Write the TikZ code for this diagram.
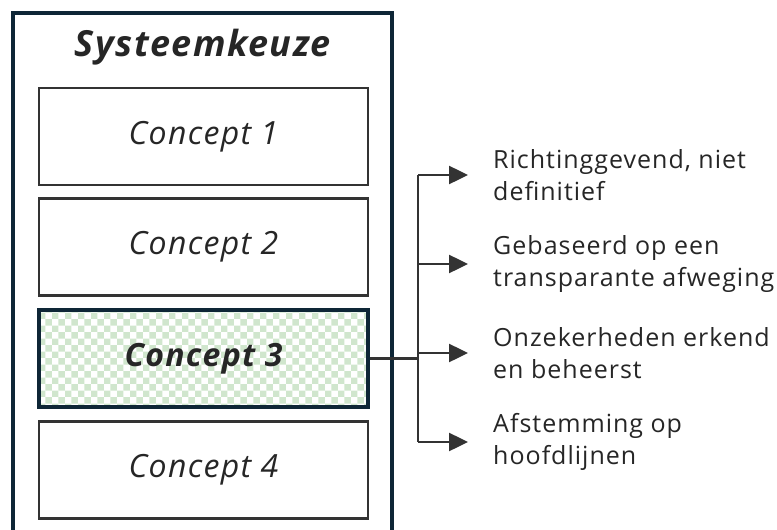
\documentclass[tikz,border=0pt]{standalone}
\usepackage{fontspec}
\setmainfont{Open Sans}[LetterSpace=4]
\usepackage{xcolor}
\definecolor{colorFrame}{HTML}{0E2636}
\definecolor{colorBox}{HTML}{333333}
\definecolor{colorText}{HTML}{262626}
\definecolor{colorCheck}{HTML}{D0E6CD}
\usetikzlibrary{arrows.meta, positioning, patterns.meta}
\tikzdeclarepattern{name=checks, type=uncolored, bounding box={(0,0) and (13.4pt,13.4pt)}, tile size={(13.4pt,13.4pt)},
  code={\fill (0,0) rectangle (6.7pt,6.7pt); \fill (6.7pt,6.7pt) rectangle (13.4pt,13.4pt);}}
\tikzset{concept/.style={draw=colorBox, line width=2.5pt, minimum width=329pt, minimum height=97pt, text=colorText, font=\fontsize{32}{36}\selectfont\itshape},
  chosen/.style={concept, draw=colorFrame, line width=4.5pt, pattern={checks}, pattern color=colorCheck, font=\fontsize{32}{36}\selectfont\bfseries\itshape},
  reason/.style={anchor=west, align=left, inner sep=0pt, text=colorText, font=\fontsize{25}{32}\selectfont},
  branch/.style={-{Triangle[length=19pt, width=18pt]}, line width=2.5pt, colorBox, shorten >=25pt}}

\begin{document}
\begin{tikzpicture}[x=1pt, y=1pt, node distance=11pt]
\useasboundingbox (0,0) rectangle (777,-530);
\draw[colorFrame, line width=4.5pt] (13,-560) -- (13,-13) -- (392,-13) -- (392,-560);
\node[text=colorText, font=\fontsize{36}{40}\selectfont\bfseries\itshape] (title) at (203,-47) {Systeemkeuze};
\node[concept] (c1) at (203.5,-136.5) {Concept 1};
\node[concept, below=of c1] (c2) {Concept 2};
\node[chosen, below=of c2] (c3) {Concept 3};
\node[concept, below=of c3] (c4) {Concept 4};
\coordinate (b1) at (418,-175);
\coordinate (b2) at (418,-264);
\coordinate (b3) at (418,-353);
\coordinate (b4) at (418,-442);
\node[reason] (r1) at (493,-175) {Richtinggevend, niet\\definitief};
\node[reason] (r2) at (493,-264) {Gebaseerd op een\\transparante afweging};
\node[reason] (r3) at (493,-353) {Onzekerheden erkend\\en beheerst};
\node[reason] (r4) at (493,-442) {Afstemming op\\hoofdlijnen};
\draw[line width=2.5pt, colorBox] (c3.east) -- (c3.east -| b3);
\draw[line width=2.5pt, colorBox] (b1) -- (b4);
\draw[branch] (b1) -- (r1.west |- b1);
\draw[branch] (b2) -- (r2.west |- b2);
\draw[branch] (b3) -- (r3.west |- b3);
\draw[branch] (b4) -- (r4.west |- b4);
\end{tikzpicture}
\end{document}
